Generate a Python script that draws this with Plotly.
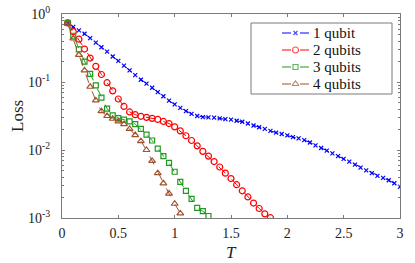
import plotly.graph_objects as go

T = [0.05, 0.10, 0.15, 0.20, 0.25, 0.30, 0.35, 0.40, 0.45, 0.50,
     0.55, 0.60, 0.65, 0.70, 0.75, 0.80, 0.85, 0.90, 0.95, 1.00,
     1.05, 1.10, 1.15, 1.20, 1.25, 1.30, 1.35, 1.40, 1.45, 1.50,
     1.55, 1.60, 1.65, 1.70, 1.75, 1.80, 1.85, 1.90, 1.95, 2.00,
     2.05, 2.10, 2.15, 2.20, 2.25, 2.30, 2.35, 2.40, 2.45, 2.50,
     2.55, 2.60, 2.65, 2.70, 2.75, 2.80, 2.85, 2.90, 2.95, 3.00]

loss_1qubit = [0.724, 0.646, 0.575, 0.513, 0.442, 0.380, 0.324, 0.279, 0.237, 0.204,
               0.174, 0.148, 0.126, 0.108, 0.0944, 0.0822, 0.0708, 0.0617, 0.0531, 0.0468,
               0.0417, 0.0372, 0.0339, 0.0316, 0.0305, 0.0302, 0.0299, 0.0292, 0.0285, 0.0279,
               0.0269, 0.0260, 0.0245, 0.0229, 0.0216, 0.0204, 0.0191, 0.0180, 0.0172, 0.0164,
               0.0155, 0.0148, 0.0140, 0.0129, 0.0117, 0.0107, 0.00977, 0.00891, 0.00813, 0.00741,
               0.00676, 0.00610, 0.00550, 0.00501, 0.00457, 0.00417, 0.00389, 0.00359, 0.00324, 0.00288]

loss_2qubits = [0.741, 0.550, 0.427, 0.305, 0.225, 0.170, 0.129, 0.0977, 0.0741, 0.0562,
                0.0437, 0.0363, 0.0331, 0.0313, 0.0302, 0.0292, 0.0282, 0.0263, 0.0245, 0.0219,
                0.0191, 0.0162, 0.0138, 0.0115, 0.00955, 0.00813, 0.00676, 0.00562, 0.00457, 0.00380,
                0.00309, 0.00251, 0.00204, 0.00166, 0.00138, 0.00115, 0.00101]

loss_3qubits = [0.741, 0.479, 0.302, 0.200, 0.132, 0.0891, 0.0589, 0.0407, 0.0324, 0.0295,
                0.0279, 0.0263, 0.0240, 0.0204, 0.0168, 0.0138, 0.0105, 0.00813, 0.00646, 0.00479,
                0.00339, 0.00251, 0.00191, 0.00141, 0.00126, 0.00107]

loss_4qubits = [0.724, 0.437, 0.251, 0.148, 0.0851, 0.0537, 0.0372, 0.0316, 0.0288, 0.0263,
                0.0240, 0.0204, 0.0166, 0.0135, 0.0100, 0.00692, 0.00457, 0.00324, 0.00229, 0.00162,
                0.00117]

names = ["1 qubit", "2 qubits", "3 qubits", "4 qubits"]
series = [loss_1qubit, loss_2qubits, loss_3qubits, loss_4qubits]
colors = ["#0000FF", "#FF0000", "#1E9A1E", "#A0522D"]
symbols = ["x-thin-open", "circle-open", "square-open", "triangle-up-open"]
sizes = [4, 6, 5, 6]

ytickvals = [0.001, 0.01, 0.1, 1]
yticktext = ["10<sup>-3</sup>", "10<sup>-2</sup>", "10<sup>-1</sup>", "10<sup>0</sup>"]
xtickvals = [0, 0.5, 1, 1.5, 2, 2.5, 3]

FONT = "Liberation Serif, Times New Roman, serif"
AXC = "#7a7a7a"
TXT = "#222222"

# layout geometry (pixels of a 415x263 canvas)
ML, MR, MT, MB = 62, 15, 14, 45
PW, PH = 415 - ML - MR, 263 - MT - MB


def px_x(p):
    return (p - ML) / PW


def px_y(p):
    return 1 - (p - MT) / PH


fig = go.Figure()
for name, ys, c, s, sz in zip(names, series, colors, symbols, sizes):
    fig.add_trace(go.Scatter(
        x=T[:len(ys)], y=ys, name=name, mode="lines+markers",
        line=dict(color=c, width=1, dash="dash"),
        marker=dict(symbol=s, size=sz, color=c, line=dict(color=c, width=1.2)),
        showlegend=False,
    ))

# custom legend (box + samples + labels)
box_x0, box_x1, box_y0, box_y1 = px_x(251), px_x(392), px_y(94), px_y(23)
samp_x0, samp_x1, text_x = px_x(282), px_x(309), px_x(311)
entry_y = [px_y(33), px_y(50), px_y(67), px_y(84)]

shapes = [dict(type="rect", xref="paper", yref="paper", x0=box_x0, x1=box_x1,
               y0=box_y0, y1=box_y1, line=dict(color=AXC, width=1),
               fillcolor="white", layer="below")]
annotations = []
for i, (name, c, s, sz) in enumerate(zip(names, colors, symbols, sizes)):
    yy = entry_y[i]
    fig.add_trace(go.Scatter(
        x=[samp_x0, (samp_x0 + samp_x1) / 2, samp_x1], y=[yy, yy, yy],
        xaxis="x2", yaxis="y2", mode="lines+markers", showlegend=False,
        hoverinfo="skip",
        line=dict(color=c, width=1, dash="dash"),
        marker=dict(symbol=s, size=[0, sz, 0], color=c, line=dict(color=c, width=1.2)),
    ))
    annotations.append(dict(text=name, xref="paper", yref="paper", x=text_x, y=yy,
                            xanchor="left", yanchor="middle", showarrow=False,
                            font=dict(family=FONT, size=15, color="#111111")))

annotations.append(dict(text="Loss", xref="paper", yref="paper", x=px_x(17), y=0.5,
                        xanchor="center", yanchor="middle", textangle=-90, showarrow=False,
                        font=dict(family=FONT, size=17, color=TXT)))
annotations.append(dict(text="<i>T</i>", xref="paper", yref="paper", x=0.5, y=px_y(252),
                        xanchor="center", yanchor="middle", showarrow=False,
                        font=dict(family=FONT, size=17, color=TXT)))

fig.update_layout(
    width=415, height=263,
    margin=dict(l=ML, r=MR, t=MT, b=MB, autoexpand=False),
    paper_bgcolor="white", plot_bgcolor="white",
    font=dict(family=FONT, size=14, color=TXT),
    showlegend=False,
    shapes=shapes, annotations=annotations,
    xaxis=dict(range=[0, 3], tickvals=xtickvals, automargin=False,
               showline=True, linecolor=AXC, linewidth=1, mirror="ticks",
               ticks="inside", ticklen=3, tickcolor=AXC, ticklabelstandoff=2,
               showgrid=False, zeroline=False),
    yaxis=dict(type="log", range=[-3, 0], tickvals=ytickvals, ticktext=yticktext,
               automargin=False,
               showline=True, linecolor=AXC, linewidth=1, mirror="ticks",
               ticks="inside", ticklen=3, tickcolor=AXC, ticklabelstandoff=8,
               minor=dict(ticks="inside", ticklen=2, tickcolor=AXC, showgrid=False,
                          tickvals=[k * 10 ** e for e in (-3, -2, -1) for k in range(2, 10)]),
               showgrid=False, zeroline=False),
    xaxis2=dict(overlaying="x", range=[0, 1], visible=False, fixedrange=True),
    yaxis2=dict(overlaying="y", range=[0, 1], visible=False, fixedrange=True),
)

fig.write_html("out.html", config={"displayModeBar": False},
               post_script="document.body.style.margin='0';")
